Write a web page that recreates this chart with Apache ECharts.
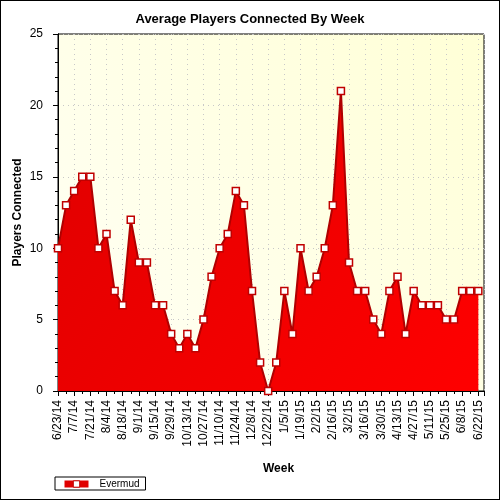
<!DOCTYPE html>
<html>
<head>
<meta charset="utf-8">
<script src="https://cdn.jsdelivr.net/npm/echarts@6/dist/echarts.min.js"></script>
<style>
  body { margin: 0; background: #fff; }
  #chart { width: 498px; height: 498px; border: 1px solid #000; }
</style>
</head>
<body>
<div id="chart"></div>
<script>
// weekly labels (every week, Monday)
const weeks = [
  '6/23/14', '6/30/14', '7/7/14', '7/14/14', '7/21/14', '7/28/14', '8/4/14', '8/11/14', '8/18/14', '8/25/14',
  '9/1/14', '9/8/14', '9/15/14', '9/22/14', '9/29/14', '10/6/14', '10/13/14', '10/20/14', '10/27/14', '11/3/14',
  '11/10/14', '11/17/14', '11/24/14', '12/1/14', '12/8/14', '12/15/14', '12/22/14', '12/29/14', '1/5/15', '1/12/15',
  '1/19/15', '1/26/15', '2/2/15', '2/9/15', '2/16/15', '2/23/15', '3/2/15', '3/9/15', '3/16/15', '3/23/15',
  '3/30/15', '4/6/15', '4/13/15', '4/20/15', '4/27/15', '5/4/15', '5/11/15', '5/18/15', '5/25/15', '6/1/15',
  '6/8/15', '6/15/15', '6/22/15'
]
const evermud = [
  10, 13, 14, 15, 15, 10, 11, 7, 6, 12,
  9, 9, 6, 6, 4, 3, 4, 3, 5, 8,
  10, 11, 14, 13, 7, 2, 0, 2, 7, 4,
  10, 7, 8, 10, 13, 21, 9, 7, 7, 5,
  4, 7, 8, 4, 7, 6, 6, 6, 5, 5,
  7, 7, 7
]
const yTicks = [0, 5, 10, 15, 20, 25]

const chart = echarts.init(document.getElementById('chart'))
const font = 'Liberation Sans, Arial, sans-serif'

chart.setOption({
  animation: false,
  textStyle: { fontFamily: font },
  title: {
    text: 'Average Players Connected By Week',
    left: 'center',
    top: 7,
    textStyle: { fontFamily: font, fontSize: 13, fontWeight: 'bold', color: '#000' }
  },
  legend: {
    left: 54,
    top: 476,
    padding: [2, 6, 1, 6],
    borderColor: '#000',
    borderWidth: 1,
    itemWidth: 24,
    itemHeight: 8,
    itemGap: 6,
    lineStyle: { color: '#e00000', width: 7 },
    itemStyle: { color: '#ffffff', borderColor: '#c00000', borderWidth: 1 },
    textStyle: { fontFamily: font, fontSize: 10, color: '#000', padding: [0, 0, 0, 6] },
    data: ['Evermud']
  },
  grid: {
    left: 57,
    right: 15,
    top: 33,
    bottom: 108,
    outerBoundsMode: 'none',
    show: true,
    borderColor: '#000',
    borderWidth: 1,
    backgroundColor: new echarts.graphic.LinearGradient(0, 1, 1, 0, [
      { offset: 0, color: '#fffff6' },
      { offset: 1, color: '#ffffd6' }
    ])
  },
  xAxis: [{
    type: 'value',
    min: 0,
    max: 52.7,
    interval: 2,
    name: 'Week',
    nameLocation: 'middle',
    nameGap: 72,
    nameTextStyle: { fontFamily: font, fontSize: 12, fontWeight: 'bold', color: '#000', padding: [0, 0, 0, 15] },
    axisLine: { lineStyle: { color: '#000' } },
    axisTick: { length: 5, lineStyle: { color: '#000' } },
    minorTick: { show: true, splitNumber: 2, length: 3, lineStyle: { color: '#000' } },
    axisLabel: {
      rotate: 90,
      fontSize: 12,
      color: '#000',
      margin: 9,
      showMaxLabel: false,
      formatter: v => (Number.isInteger(v) ? weeks[v] : '')
    },
    splitLine: { show: true, lineStyle: { color: '#c8c8c8', type: [1, 4] } }
  }, {
    type: 'value',
    position: 'top',
    min: 0,
    max: 52.7,
    interval: 1,
    axisLine: { show: true, lineStyle: { color: '#000' } },
    axisTick: { inside: true, length: 3, lineStyle: { color: '#000' } },
    axisLabel: { show: false },
    splitLine: { show: false }
  }],
  yAxis: [{
    type: 'value',
    min: yTicks[0],
    max: yTicks[yTicks.length - 1],
    interval: 5,
    name: 'Players Connected',
    nameLocation: 'middle',
    nameGap: 34,
    nameMoveOverlap: false,
    nameTextStyle: { fontFamily: font, fontSize: 12, fontWeight: 'bold', color: '#000' },
    axisLine: { show: true, lineStyle: { color: '#000' } },
    axisTick: { length: 5, lineStyle: { color: '#000' } },
    minorTick: { show: true, splitNumber: 5, length: 3, lineStyle: { color: '#000' } },
    axisLabel: { fontSize: 12, color: '#000', margin: 15 },
    splitLine: { show: true, lineStyle: { color: '#c8c8c8', type: [1, 4] } }
  }, {
    type: 'value',
    position: 'right',
    min: 0,
    max: 25,
    interval: 1,
    axisLine: { show: true, lineStyle: { color: '#000' } },
    axisTick: { inside: true, length: 3, lineStyle: { color: '#000' } },
    axisLabel: { show: false },
    splitLine: { show: false }
  }],
  series: [{
    name: 'Evermud',
    type: 'line',
    data: evermud.map((v, i) => [i, v]),
    symbol: 'rect',
    symbolSize: 7,
    itemStyle: { color: '#ffffff', borderColor: '#c00000', borderWidth: 1.5 },
    lineStyle: { color: '#b00000', width: 2 },
    areaStyle: {
      opacity: 1,
      color: new echarts.graphic.LinearGradient(0, 0, 1, 1, [
        { offset: 0, color: '#e00000' },
        { offset: 1, color: '#ff0000' }
      ])
    }
  }]
})
</script>
</body>
</html>
